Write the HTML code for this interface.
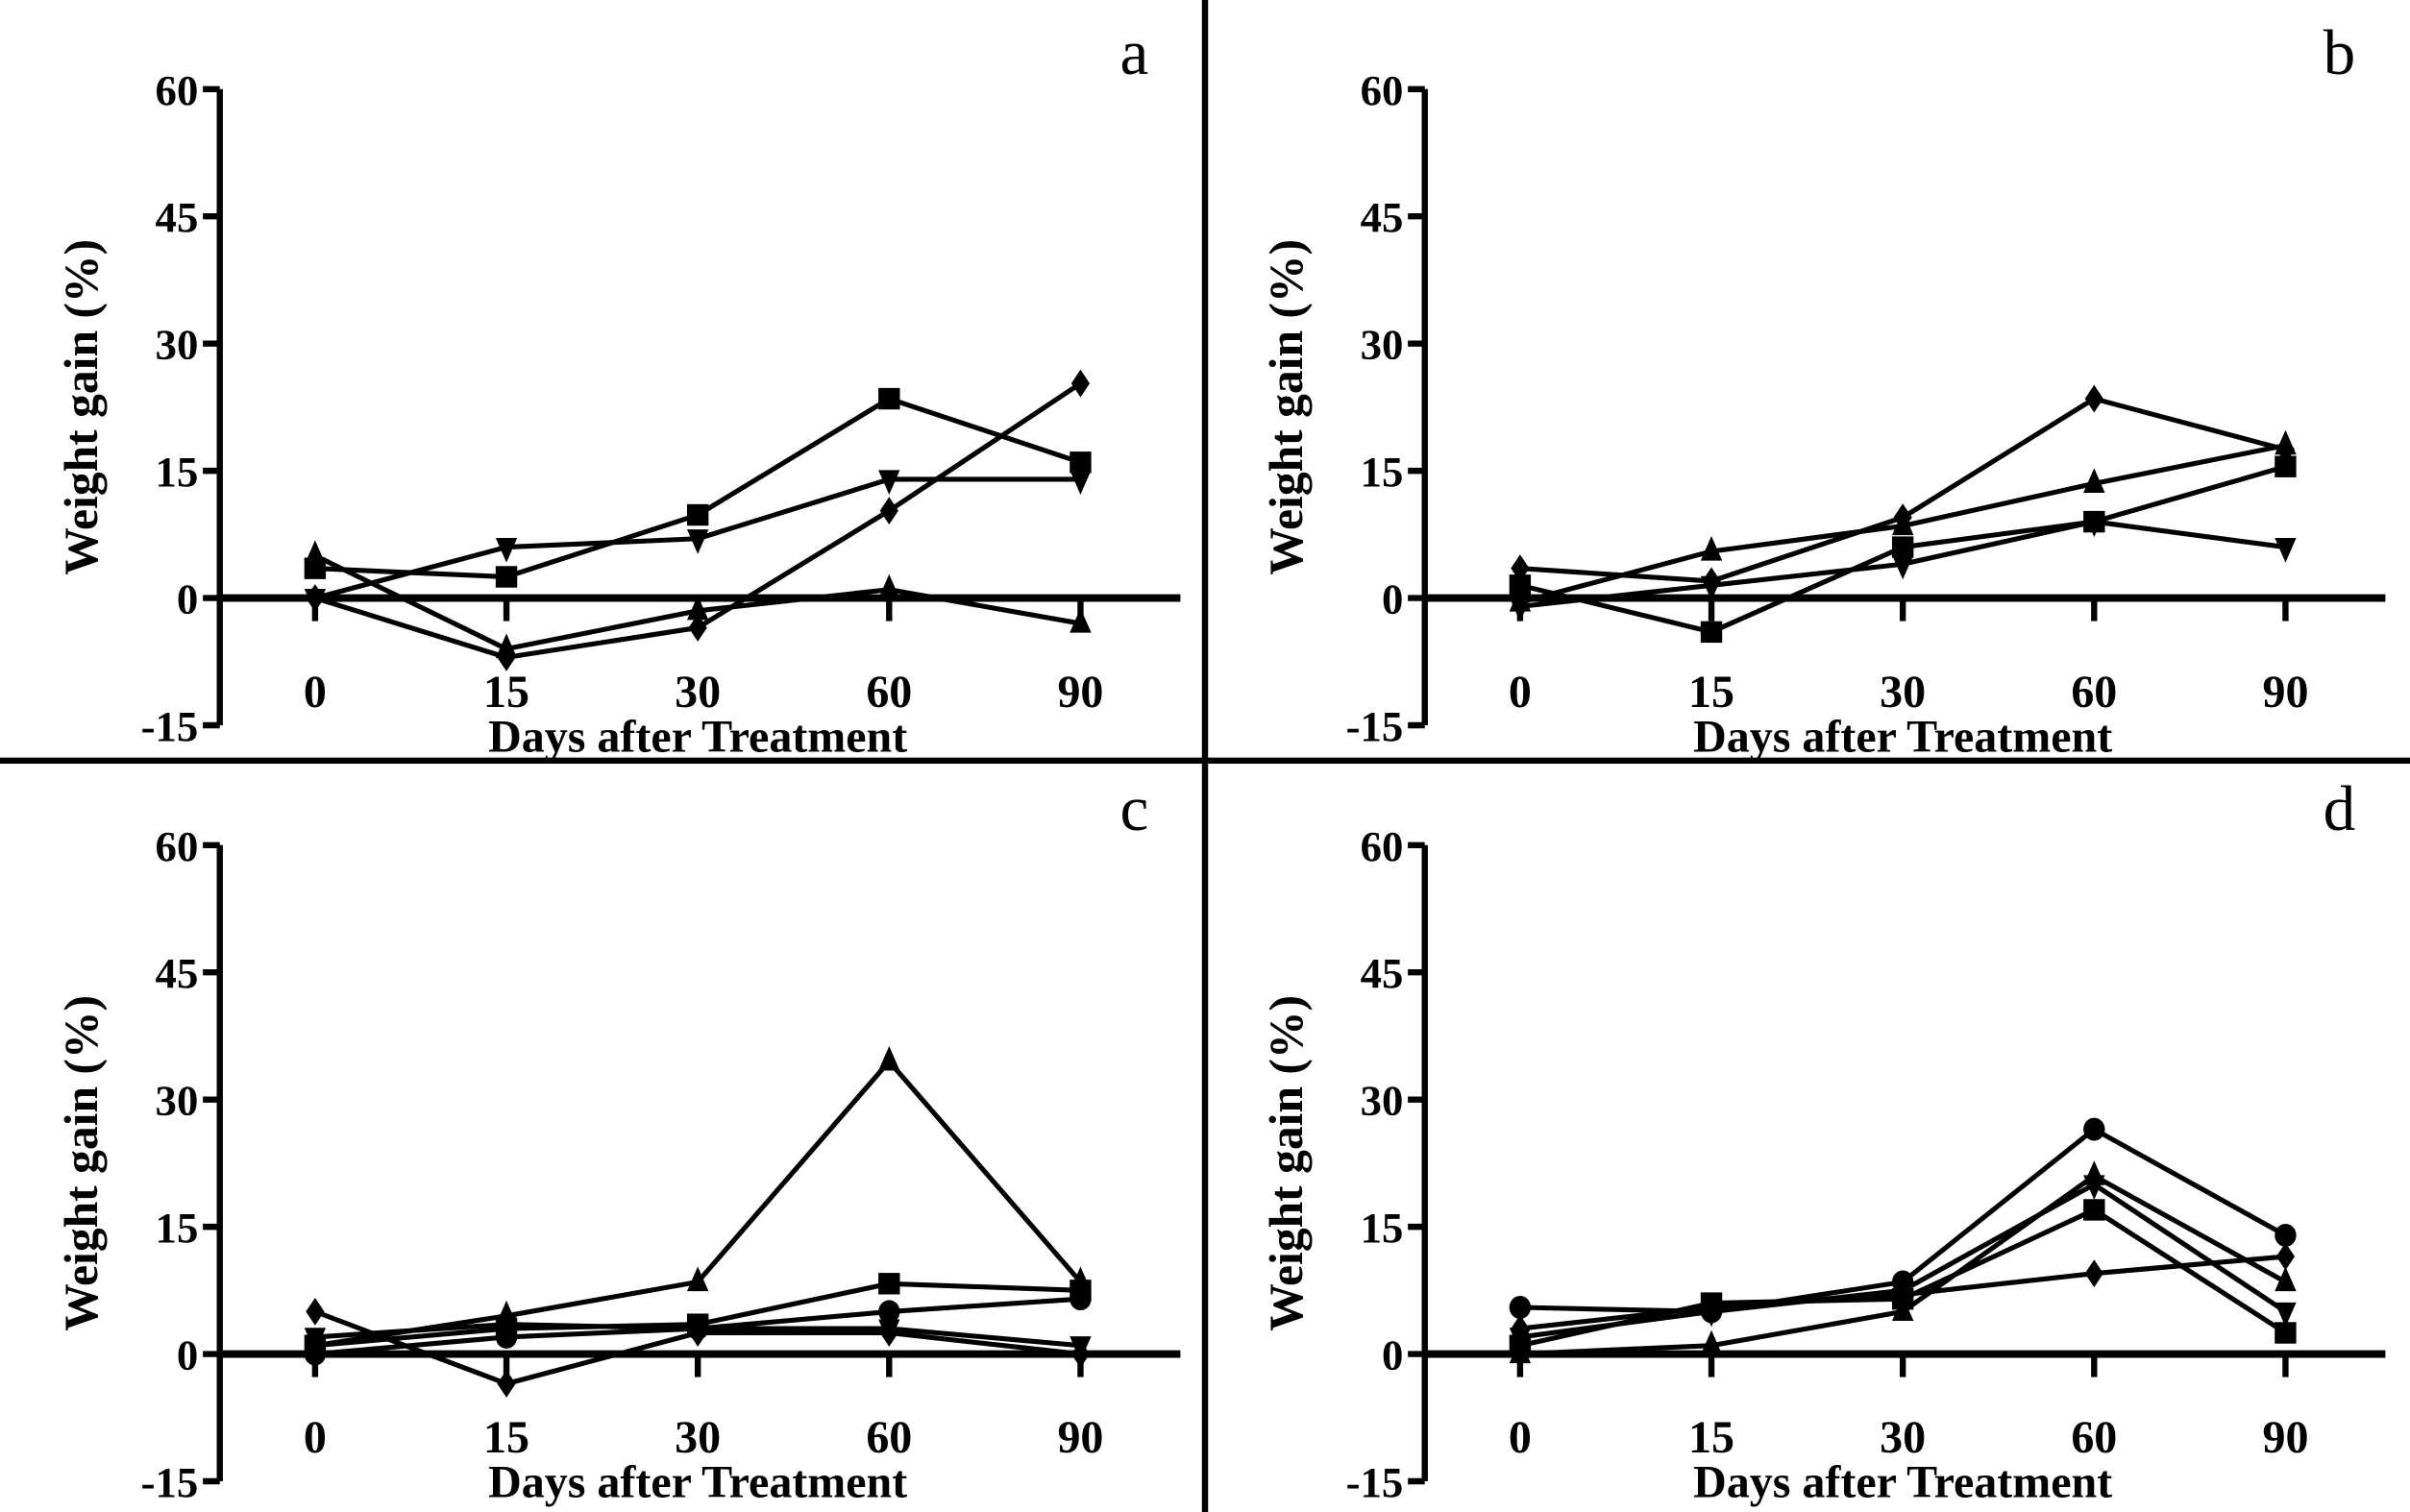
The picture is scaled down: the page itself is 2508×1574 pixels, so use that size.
<!DOCTYPE html>
<html><head><meta charset="utf-8"><style>
html,body{margin:0;padding:0;background:#fff}
svg{display:block}
text{font-family:"Liberation Serif",serif;fill:#000}
</style></head><body>
<svg id="fig" width="2508" height="1574" viewBox="0 0 1568 984" preserveAspectRatio="none" xmlns="http://www.w3.org/2000/svg">
<rect x="0" y="0" width="1568" height="984" fill="#fff"/>
<line x1="784" y1="0" x2="784" y2="984" stroke="#000" stroke-width="4"/>
<line x1="0" y1="495" x2="1568" y2="495" stroke="#000" stroke-width="4"/>
</svg>
<script>
const categories = ["0","15","30","60","90"];
const yTicks = [60,45,30,15,0,-15];
const panelLetters = ["a","b","c","d"];
// panel a
const aSquare = [3.5,2.5,9.8,23.5,16];
const aDown = [0,6,7,14,14];
const aDiamond = [0,-7,-3.5,10.3,25.3];
const aUp = [5,-6,-1.5,1,-3];
// panel b
const bDiamond = [3.5,2,9.5,23.5,17.5];
const bUp = [-0.5,5.5,8.5,13.5,18];
const bSquare = [1.5,-4,6,9,15.5];
const bDown = [-1,1.5,4,9,6];
// panel c
const cUp = [1,4.5,8.5,34.5,8.5];
const cSquare = [1,3,3.5,8.3,7.5];
const cCircle = [0,2,3,5,6.5];
const cDiamond = [5,-3.5,2.5,2.5,0];
const cDown = [2,3.5,3,3,1];
// panel d
const dCircle = [5.5,5,8.5,26.5,14];
const dDiamond = [3,5.5,7,9.5,11.5];
const dUp = [0,1,5,21,8.5];
const dDown = [2,5,7.5,20,5];
const dSquare = [1,6,6.5,17,2.5];

const panels = [
 {ox:0, oy:0, lo:71, to:100, series:[["square",aSquare],["down",aDown],["diamond",aDiamond],["up",aUp]]},
 {ox:784, oy:0, lo:71, to:100, series:[["diamond",bDiamond],["up",bUp],["square",bSquare],["down",bDown]]},
 {ox:0, oy:492, lo:64, to:93, series:[["up",cUp],["square",cSquare],["circle",cCircle],["diamond",cDiamond],["down",cDown]]},
 {ox:784, oy:492, lo:64, to:93, series:[["circle",dCircle],["diamond",dDiamond],["up",dUp],["down",dDown],["square",dSquare]]}
];
const NS="http://www.w3.org/2000/svg";
const svg=document.getElementById('fig');
function mk(tag,attrs,parent){const e=document.createElementNS(NS,tag);for(const k in attrs)e.setAttribute(k,attrs[k]);(parent||svg).appendChild(e);return e;}

panels.forEach((p,pi)=>{
  const g=mk('g',{});
  
  
  const axX=143+p.ox, yTop=58+p.oy, yBot=472+p.oy;
  const yS=v=>yTop+(60-v)*(yBot-yTop)/75;
  const xS=i=>205+p.ox+i*124.5;
  const ya=mk('line',{x1:axX,y1:yTop,x2:axX,y2:yBot,stroke:'#000','stroke-width':4},g);
  
  
  yTicks.forEach(t=>{
    mk('line',{x1:axX-11,y1:yS(t),x2:axX,y2:yS(t),stroke:'#000','stroke-width':4},g);
    const tl=mk('text',{x:axX-14,y:yS(t)+10,'text-anchor':'end','font-size':28,'font-weight':'bold'},g);
    tl.textContent=t;
    
    
  });
  const zl=mk('line',{x1:axX,y1:yS(0),x2:768+p.ox,y2:yS(0),stroke:'#000','stroke-width':5},g);
  
  
  categories.forEach((c,i)=>{
    mk('line',{x1:xS(i),y1:yS(0),x2:xS(i),y2:yS(0)+15,stroke:'#000','stroke-width':4},g);
    const tl=mk('text',{x:xS(i),y:yS(0)+p.lo,'text-anchor':'middle','font-size':30,'font-weight':'bold'},g);
    tl.textContent=c;
    
    
  });
  const xt=mk('text',{x:454+p.ox,y:yS(0)+p.to,'text-anchor':'middle','font-size':30,'font-weight':'bold'},g);
  xt.textContent='Days after Treatment';
  
  
  const cy=(yTop+yBot)/2-0;
  const yt=mk('text',{x:0,y:0,transform:`translate(${63+p.ox},${cy}) rotate(-90)`,'text-anchor':'middle','font-size':31,'font-weight':'bold'},g);
  yt.textContent='Weight gain (%)';
  
  
  const lt=mk('text',{x:738+p.ox,y:48+p.oy,'text-anchor':'middle','font-size':42},g);
  lt.textContent=panelLetters[pi];
  
  
  p.series.forEach(([shape,vals])=>{
    const pts=vals.map((v,i)=>xS(i)+','+yS(v)).join(' ');
    const pl=mk('polyline',{points:pts,fill:'none',stroke:'#000','stroke-width':3.2,'stroke-linejoin':'round'},g);
    
    
    vals.forEach((v,i)=>{
      const x=xS(i),y=yS(v);let m;
      if(shape==='square')m=mk('rect',{x:x-7,y:y-7,width:14,height:14,fill:'#000'},g);
      else if(shape==='circle')m=mk('ellipse',{cx:x,cy:y,rx:7,ry:7.5,fill:'#000'},g);
      else if(shape==='diamond')m=mk('polygon',{points:`${x},${y-9} ${x+6},${y} ${x},${y+9} ${x-6},${y}`,fill:'#000'},g);
      else if(shape==='up')m=mk('polygon',{points:`${x},${y-10} ${x+7},${y+6} ${x-7},${y+6}`,fill:'#000'},g);
      else m=mk('polygon',{points:`${x},${y+10} ${x+7},${y-6} ${x-7},${y-6}`,fill:'#000'},g);
      
      
    });
  });
});
</script>
</body></html>
